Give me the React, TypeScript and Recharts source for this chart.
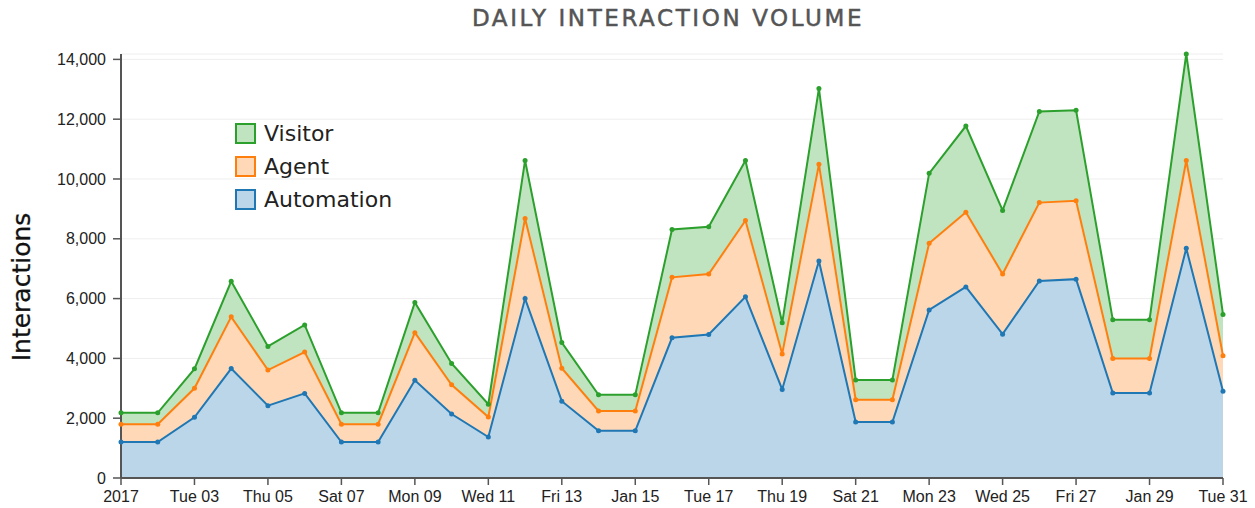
import React from 'react';
import { ComposedChart, Area, Line, XAxis, YAxis, CartesianGrid, Legend } from 'recharts';

const days = [1, 2, 3, 4, 5, 6, 7, 8, 9, 10, 11, 12, 13, 14, 15, 16, 17, 18, 19, 20, 21, 22, 23, 24, 25, 26, 27, 28, 29, 30, 31];
const automation = [1200, 1200, 2030, 3660, 2420, 2830, 1200, 1200, 3270, 2140, 1370, 6000, 2570, 1580, 1580, 4690, 4800, 6060, 2960, 7260, 1870, 1870, 5620, 6390, 4810, 6590, 6650, 2840, 2840, 7680, 2900];
const agent = [600, 600, 970, 1730, 1190, 1380, 600, 600, 1590, 980, 670, 2680, 1100, 660, 660, 2020, 2020, 2550, 1190, 3230, 750, 750, 2230, 2500, 2010, 2620, 2620, 1160, 1160, 2940, 1190];
const visitor = [380, 380, 650, 1190, 790, 910, 380, 380, 1010, 710, 430, 1940, 860, 540, 540, 1600, 1580, 2010, 1040, 2540, 660, 660, 2340, 2880, 2130, 3050, 3030, 1290, 1290, 3560, 1380];

const tickDays = [1, 3, 5, 7, 9, 11, 13, 15, 17, 19, 21, 23, 25, 27, 29, 31];
const tickLabels = ['2017', 'Tue 03', 'Thu 05', 'Sat 07', 'Mon 09', 'Wed 11', 'Fri 13', 'Jan 15', 'Tue 17', 'Thu 19', 'Sat 21', 'Mon 23', 'Wed 25', 'Fri 27', 'Jan 29', 'Tue 31'];
const yTicks = [0, 2000, 4000, 6000, 8000, 10000, 12000, 14000];

const seriesNames = ['Automation', 'Agent', 'Visitor'];
const lineColors = ['#1f77b4', '#ff7f0e', '#2ca02c'];
const fillColors = ['#bcd6e9', '#ffd9b7', '#c0e3c0'];

const data = days.map((d, i) => ({
  day: d,
  automation: automation[i],
  agent: agent[i],
  visitor: visitor[i],
  autoTop: automation[i],
  agentTop: automation[i] + agent[i],
  visitorTop: automation[i] + agent[i] + visitor[i],
}));

const legendOrder = [2, 1, 0];

const LegendContent = () => (
  <div style={{ fontFamily: '"DejaVu Sans", sans-serif', fontSize: 22, color: '#222' }}>
    {legendOrder.map((k) => (
      <div key={k} style={{ display: 'flex', alignItems: 'center', height: 33 }}>
        <div
          style={{
            width: 17,
            height: 17,
            background: fillColors[k],
            border: `2px solid ${lineColors[k]}`,
            marginRight: 8,
          }}
        />
        <span>{seriesNames[k]}</span>
      </div>
    ))}
  </div>
);

const tickStyle = { fontFamily: '"Liberation Sans", Arial, sans-serif', fontSize: 16, fill: '#222' };

export default function App() {
  return (
    <div style={{ position: 'absolute', left: 0, top: 0, width: 1255, height: 508, background: '#fff' }}>
      <div
        style={{
          position: 'absolute',
          left: 0,
          width: 1336,
          top: 4,
          textAlign: 'center',
          fontFamily: '"DejaVu Sans", sans-serif',
          fontSize: 23,
          letterSpacing: 2.6,
          color: '#555',
          lineHeight: '28px',
          whiteSpace: 'nowrap',
          WebkitTextStroke: '0.5px #555',
        }}
      >
        DAILY INTERACTION VOLUME
      </div>
      <div
        style={{
          position: 'absolute',
          left: 22,
          top: 287,
          transform: 'translate(-50%, -50%) rotate(-90deg)',
          fontFamily: '"DejaVu Sans", sans-serif',
          fontSize: 25,
          color: '#111',
          whiteSpace: 'nowrap',
          lineHeight: '30px',
          WebkitTextStroke: '0.3px #111',
        }}
      >
        Interactions
      </div>
      <ComposedChart
        width={1255}
        height={508}
        data={data}
        margin={{ top: 54, right: 32, bottom: 0, left: 0 }}
      >
        <CartesianGrid horizontal vertical={false} stroke="#eeeeee" />
        <XAxis
          dataKey="day"
          type="number"
          domain={[1, 31]}
          ticks={tickDays}
          tickFormatter={(v: number) => tickLabels[tickDays.indexOf(v)] ?? ''}
          tick={tickStyle}
          tickSize={7}
          tickMargin={6}
          axisLine={{ stroke: '#555', strokeWidth: 2 }}
          tickLine={{ stroke: '#555', strokeWidth: 1.5 }}
          interval={0}
          height={30}
        />
        <YAxis
          type="number"
          domain={[0, 'dataMax']}
          ticks={yTicks}
          tickFormatter={(v: number) => v.toLocaleString('en-US')}
          tick={tickStyle}
          tickSize={8}
          tickMargin={7}
          width={121}
          axisLine={{ stroke: '#555', strokeWidth: 2 }}
          tickLine={{ stroke: '#555', strokeWidth: 1.5 }}
          interval={0}
        />
        <Area type="linear" dataKey="automation" stackId="s" stroke="none" fill={fillColors[0]} fillOpacity={1} isAnimationActive={false} dot={false} activeDot={false} />
        <Area type="linear" dataKey="agent" stackId="s" stroke="none" fill={fillColors[1]} fillOpacity={1} isAnimationActive={false} dot={false} activeDot={false} />
        <Area type="linear" dataKey="visitor" stackId="s" stroke="none" fill={fillColors[2]} fillOpacity={1} isAnimationActive={false} dot={false} activeDot={false} />
        <Line type="linear" dataKey="autoTop" stroke={lineColors[0]} strokeWidth={2} isAnimationActive={false} dot={{ r: 2.5, fill: lineColors[0], stroke: lineColors[0], strokeWidth: 0 }} activeDot={false} legendType="none" />
        <Line type="linear" dataKey="agentTop" stroke={lineColors[1]} strokeWidth={2} isAnimationActive={false} dot={{ r: 2.5, fill: lineColors[1], stroke: lineColors[1], strokeWidth: 0 }} activeDot={false} legendType="none" />
        <Line type="linear" dataKey="visitorTop" stroke={lineColors[2]} strokeWidth={2} isAnimationActive={false} dot={{ r: 2.5, fill: lineColors[2], stroke: lineColors[2], strokeWidth: 0 }} activeDot={false} legendType="none" />
        <Legend
          layout="vertical"
          align="center"
          verticalAlign="middle"
          content={<LegendContent />}
          wrapperStyle={{ position: 'absolute', left: 235, top: 117, width: 200, height: 100 }}
        />
      </ComposedChart>
    </div>
  );
}
